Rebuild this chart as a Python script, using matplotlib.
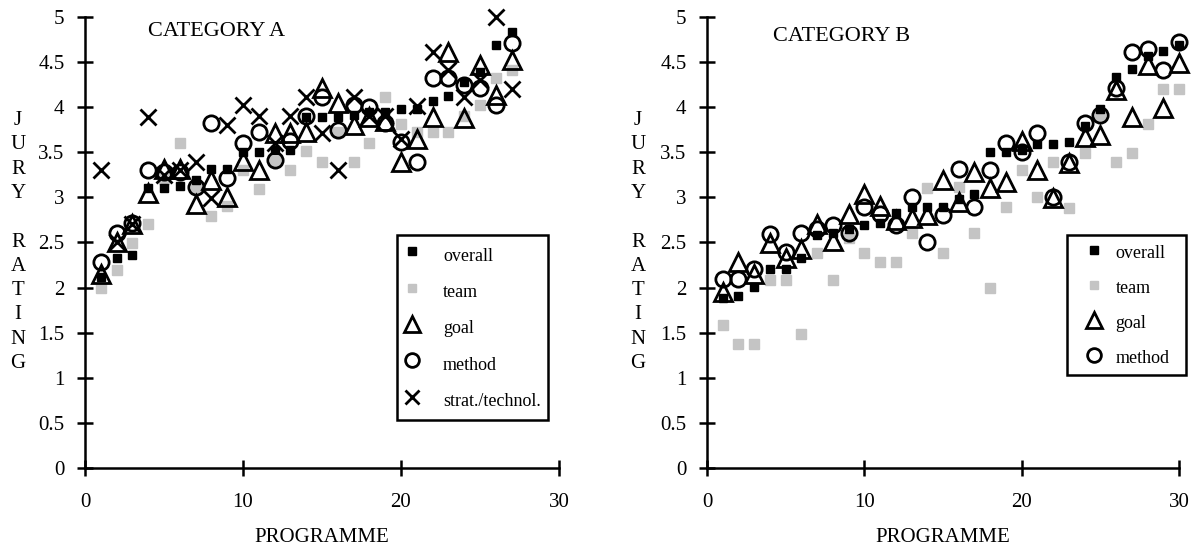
import matplotlib
matplotlib.use('Agg')
import matplotlib.pyplot as plt

plt.rcParams['font.family'] = ['Liberation Serif', 'DejaVu Serif']

# category A (27 programmes)
a_prog = list(range(1, 28))
a_overall = [2.12, 2.33, 2.36, 3.1, 3.1, 3.13, 3.19, 3.31, 3.31, 3.5, 3.5, 3.52, 3.52, 3.89,
             3.89, 3.89, 3.91, 3.95, 3.95, 3.98, 3.98, 4.07, 4.12, 4.28, 4.39, 4.69, 4.83]
a_team = [1.99, 2.19, 2.49, 2.7, 3.2, 3.6, 3.1, 2.79, 2.91, 3.3, 3.09, 3.4, 3.3, 3.51,
          3.39, 3.72, 3.39, 3.6, 4.11, 3.81, 3.72, 3.72, 3.72, 3.9, 4.02, 4.32, 4.41]
a_goal = [2.15, 2.5, 2.7, 3.05, 3.32, 3.32, 2.93, 3.19, 3.0, 3.4, 3.3, 3.71, 3.71, 3.72,
          4.21, 4.05, 3.8, 3.89, 3.85, 3.39, 3.65, 3.89, 4.61, 3.88, 4.47, 4.13, 4.52]
a_method = [2.28, 2.6, 2.72, 3.3, 3.28, 3.28, 3.11, 3.82, 3.21, 3.6, 3.72, 3.41, 3.63, 3.9,
            4.11, 3.75, 4.02, 4.0, 3.82, 3.61, 3.39, 4.32, 4.32, 4.25, 4.21, 4.02, 4.71]
a_strat = [3.3, 2.5, 2.7, 3.89, 3.25, 3.3, 3.39, 2.99, 3.8, 4.02, 3.9, 3.6, 3.9, 4.11,
           3.71, 3.3, 4.11, 3.9, 3.9, 3.65, 4.01, 4.61, 4.41, 4.11, 4.3, 5.0, 4.2]

# category B (30 programmes)
b_prog = list(range(1, 31))
b_overall = [1.89, 1.91, 2.01, 2.21, 2.21, 2.33, 2.58, 2.6, 2.65, 2.69, 2.72, 2.83, 2.89, 2.89,
             2.89, 2.98, 3.04, 3.5, 3.5, 3.52, 3.59, 3.59, 3.61, 3.79, 3.98, 4.33, 4.42, 4.57,
             4.62, 4.69]
b_team = [1.58, 1.38, 1.38, 2.08, 2.08, 1.49, 2.38, 2.08, 2.55, 2.38, 2.28, 2.28, 2.6, 3.1,
          2.38, 3.11, 2.6, 2.0, 2.89, 3.3, 3.0, 3.39, 2.88, 3.49, 3.9, 3.39, 3.49, 3.81,
          4.2, 4.2]
b_goal = [1.95, 2.28, 2.15, 2.49, 2.33, 2.43, 2.71, 2.52, 2.82, 3.04, 2.91, 2.75, 2.77, 2.8,
          3.19, 2.95, 3.28, 3.1, 3.17, 3.63, 3.3, 2.99, 3.38, 3.67, 3.69, 4.19, 3.89, 4.47,
          3.99, 4.49]
b_method = [2.09, 2.09, 2.21, 2.59, 2.39, 2.6, 2.65, 2.69, 2.6, 2.89, 2.82, 2.69, 3.0, 2.5,
            2.8, 3.32, 2.89, 3.3, 3.6, 3.5, 3.71, 3.0, 3.39, 3.83, 3.91, 4.21, 4.61, 4.64,
            4.41, 4.72]

fig = plt.figure(figsize=(12.02, 5.48), dpi=100)
ax1 = fig.add_axes([0.0707, 0.146, 0.3943, 0.823])
ax2 = fig.add_axes([0.5882, 0.146, 0.3927, 0.823])


def draw(ax, x, overall, team, goal, method, strat=None):
    ax.plot(x, team, 's', color='#c4c4c4', markersize=7, label='team', clip_on=False, zorder=2)
    ax.plot(x, overall, 's', color='black', markersize=6, label='overall', clip_on=False, zorder=3)
    ax.plot(x, goal, '^', mfc='none', mec='black', mew=2, markersize=13, label='goal',
            clip_on=False, zorder=4)
    ax.plot(x, method, 'o', mfc='none', mec='black', mew=2, markersize=11, label='method',
            clip_on=False, zorder=4)
    if strat is not None:
        ax.plot(x, strat, 'x', color='black', mew=2, markersize=11, label='strat./technol.',
                clip_on=False, zorder=5)
    ax.set_xlim(0, 30)
    ax.set_ylim(0, 5)
    ax.set_xticks([0, 10, 20, 30])
    ax.set_yticks([0, 0.5, 1, 1.5, 2, 2.5, 3, 3.5, 4, 4.5, 5])
    ax.set_yticklabels(['0', '0.5', '1', '1.5', '2', '2.5', '3', '3.5', '4', '4.5', '5'])
    for s in ['top', 'right']:
        ax.spines[s].set_visible(False)
    for s in ['left', 'bottom']:
        ax.spines[s].set_linewidth(1.8)
    ax.tick_params(direction='inout', length=11.5, width=1.8, labelsize=15, pad=9)
    ax.tick_params(axis='x', pad=12)
    ax.set_xlabel('PROGRAMME', fontsize=15, labelpad=12)
    handles, labels = ax.get_legend_handles_labels()
    order = ['overall', 'team', 'goal', 'method', 'strat./technol.']
    hl = sorted(zip(handles, labels), key=lambda t: order.index(t[1]))
    return [h for h, l in hl], [l for h, l in hl]


h, l = draw(ax1, a_prog, a_overall, a_team, a_goal, a_method, a_strat)
leg = ax1.legend(h, l, loc='upper left', bbox_to_anchor=(0.658, 0.517), borderaxespad=0,
                 fontsize=13, labelspacing=0.61, handleheight=1.78, handletextpad=1.28,
                 fancybox=False, edgecolor='black', framealpha=1, borderpad=0.4,
                 handlelength=0.87, markerscale=0.9)
leg.get_frame().set_linewidth(1.8)
ax1.text(0.134, 0.988, 'CATEGORY A', transform=ax1.transAxes, fontsize=16, va='top')

h, l = draw(ax2, b_prog, b_overall, b_team, b_goal, b_method)
leg = ax2.legend(h, l, loc='upper left', bbox_to_anchor=(0.763, 0.517, 0.252, 0.0),
                 mode='expand', borderaxespad=0,
                 fontsize=13, labelspacing=0.82, handleheight=1.35, handletextpad=0.1,
                 fancybox=False, edgecolor='black', framealpha=1, borderpad=0.4,
                 handlelength=2.19, markerscale=0.9)
leg.get_frame().set_linewidth(1.8)
ax2.text(0.14, 0.978, 'CATEGORY B', transform=ax2.transAxes, fontsize=16, va='top')

ylab = 'J\nU\nR\nY\n\nR\nA\nT\nI\nN\nG'
fig.text(18 / 1202, 1 - 242 / 548, ylab, ha='center', va='center', fontsize=15, linespacing=1.38)
fig.text(638 / 1202, 1 - 242 / 548, ylab, ha='center', va='center', fontsize=15, linespacing=1.38)

fig.savefig('out.png', dpi=100)
